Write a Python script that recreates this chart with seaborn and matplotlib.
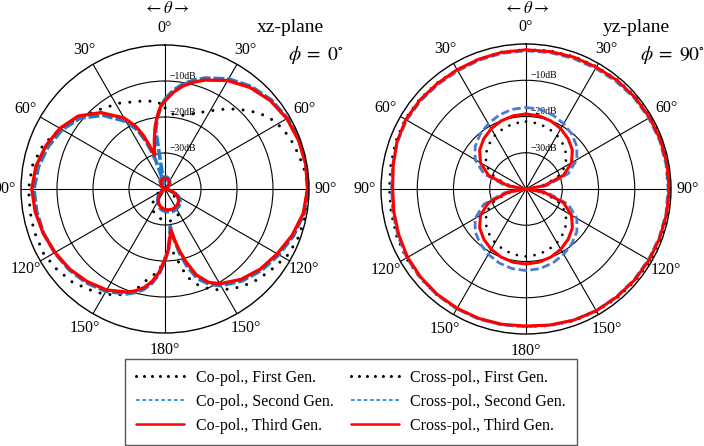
import numpy as np
import matplotlib
matplotlib.use('Agg')
import matplotlib.pyplot as plt
from matplotlib.lines import Line2D
import seaborn as sns

sns.set_style('white', rc={'text.color': 'black', 'xtick.color': 'black',
                           'ytick.color': 'black', 'axes.labelcolor': 'black'})
plt.rcParams['font.family'] = ['Liberation Serif', 'DejaVu Serif']
plt.rcParams['mathtext.fontset'] = 'stix'

# ---- xz-plane (phi = 0) : angle in deg (clockwise from top), level in dB ----
xz_co3_ang = [0, 5, 10, 15, 20, 30, 40, 50, 60, 70, 80, 90, 100, 110, 120, 130, 140,
              150, 155, 160, 164, 167, 170, 172, 174, 177, 180, 184, 188, 192, 196, 200,
              210, 220, 230, 240, 250, 260, 270, 280, 290, 300, 310, 320, 330, 335, 338,
              340, 342, 343, 345, 348, 351, 354, 357, 360]
xz_co3_db = [-15.5, -13.0, -10.9, -9.3, -7.8, -5.2, -3.2, -1.8, -0.9, -0.5, -0.3, -0.4,
             -1.0, -2.4, -4.0, -5.4, -7.2, -9.6, -11.4, -14.6, -19.0, -22.6, -26.2, -28.6,
             -26.5, -23.0, -20.5, -16.8, -14.0, -12.0, -10.6, -9.5, -7.6, -6.4, -5.4, -4.7,
             -4.0, -3.4, -3.0, -3.6, -4.8, -6.3, -8.5, -12.3, -17.2, -20.8, -24.0, -26.8,
             -29.6, -30.2, -28.6, -25.8, -22.5, -19.6, -17.0, -15.5]

xz_co2_ang = [0, 5, 10, 15, 20, 30, 40, 50, 60, 70, 80, 90, 100, 110, 120, 130, 140,
              150, 155, 160, 164, 167, 170, 172, 174, 177, 180, 184, 188, 192, 196, 200,
              210, 220, 230, 240, 250, 260, 270, 280, 290, 300, 310, 320, 330, 335, 338,
              340, 342, 345, 348, 351, 354, 357, 360]
xz_co2_db = [-15.0, -12.4, -10.3, -8.7, -7.2, -4.7, -2.8, -1.5, -0.7, -0.3, -0.2, -0.3,
             -0.8, -2.0, -3.5, -4.9, -6.7, -9.0, -10.8, -13.5, -17.5, -21.5, -26.0, -29.5,
             -27.0, -23.0, -20.0, -16.3, -13.5, -11.5, -10.1, -9.0, -7.2, -6.0, -5.2, -4.6,
             -4.1, -3.8, -3.6, -4.3, -5.5, -7.0, -9.3, -13.3, -18.3, -22.0, -25.5, -28.5,
             -31.5, -36.5, -38.5, -23.5, -20.0, -17.3, -15.0]

xz_co1_ang = [0, 5, 10, 15, 20, 28, 35, 40, 45, 51, 57, 63, 70, 76, 83, 90, 100, 110,
              118, 128, 137, 146, 155, 161, 166, 171, 175, 178, 182, 186, 190, 196, 202,
              210, 217, 225, 234, 242, 252, 260, 270, 280, 290, 300, 310, 315, 320, 332,
              346, 355, 360]
xz_co1_db = [-17.5, -19.0, -19.2, -18.8, -17.8, -15.6, -13.0, -11.0, -9.0, -6.4, -4.6,
             -3.2, -2.3, -1.6, -0.8, -0.3, -0.2, -0.6, -1.2, -3.0, -4.4, -6.5, -9.1, -11.8,
             -14.9, -20.8, -24.0, -22.5, -19.0, -16.5, -15.0, -11.0, -8.3, -6.2, -5.0,
             -3.5, -2.5, -1.8, -1.8, -2.0, -2.1, -2.6, -4.0, -6.5, -9.0, -10.4, -11.3,
             -13.0, -14.8, -15.6, -17.5]

xz_x_ang = [0, 10, 20, 30, 40, 50, 60, 70, 80, 90, 100, 110, 120, 130, 140, 150, 160,
            170, 180, 190, 200, 210, 220, 230, 240, 250, 260, 270, 280, 290, 300, 310,
            320, 330, 340, 350, 360]
xz_x3_db = [-37.0, -37.1, -37.3, -37.7, -38.2, -38.8, -39.4, -39.8, -40.0, -40.0, -39.3,
            -37.5, -36.0, -35.0, -34.5, -34.2, -34.0, -34.1, -34.3, -34.7, -35.3, -36.2,
            -37.3, -38.5, -39.4, -39.9, -40.0, -40.0, -40.0, -39.8, -39.4, -38.8, -38.2,
            -37.7, -37.3, -37.1, -37.0]
xz_x2_db = [-36.6, -36.7, -37.0, -37.4, -37.9, -38.6, -39.2, -39.7, -40.0, -40.0, -39.1,
            -37.2, -35.6, -34.5, -33.9, -33.6, -33.4, -33.5, -33.8, -34.2, -34.9, -35.9,
            -37.0, -38.2, -39.2, -39.8, -40.0, -40.0, -40.0, -39.7, -39.2, -38.5, -37.9,
            -37.3, -36.9, -36.7, -36.6]
xz_x1_db = [-38.0, -38.2, -38.7, -39.3, -39.8, -40.0, -40.0, -40.0, -40.0, -40.0, -40.0,
            -39.0, -37.8, -36.2, -33.8, -32.2, -31.3, -31.0, -31.3, -31.7, -32.3, -33.2,
            -34.6, -36.2, -37.8, -39.2, -40.0, -40.0, -40.0, -40.0, -40.0, -40.0, -39.7,
            -39.0, -38.4, -38.1, -38.0]

# ---- yz-plane (phi = 90) ----
yz_ang = [0, 10, 20, 30, 40, 50, 60, 70, 80, 90, 100, 110, 120, 130, 140, 150, 160, 170,
          180, 190, 200, 210, 220, 230, 240, 250, 260, 270, 280, 290, 300, 310, 320, 330,
          340, 350, 360]
yz_co3_db = [-1.6, -1.5, -1.3, -1.2, -0.9, -0.7, -0.6, -0.5, -0.5, -0.5, -0.6, -0.7, -0.8,
             -0.9, -1.1, -1.2, -1.5, -1.9, -2.2, -2.1, -2.0, -2.0, -2.0, -2.1, -2.3, -2.7,
             -3.0, -3.2, -2.8, -2.1, -1.7, -1.8, -2.0, -2.0, -1.9, -1.7, -1.6]
yz_co2_db = [-1.9, -1.8, -1.7, -1.6, -1.3, -1.0, -0.9, -0.8, -0.8, -0.8, -0.8, -0.9, -1.0,
             -1.1, -1.2, -1.3, -1.5, -1.8, -2.0, -1.9, -1.8, -1.8, -1.8, -1.9, -2.0, -2.4,
             -2.7, -2.9, -2.6, -2.2, -2.0, -2.1, -2.3, -2.4, -2.2, -2.0, -1.9]
yz_co1_db = [-1.5, -1.3, -1.1, -1.0, -0.7, -0.5, -0.4, -0.2, -0.1, -0.1, -0.2, -0.3, -0.4,
             -0.6, -0.8, -1.0, -1.3, -1.7, -2.0, -1.9, -1.9, -1.9, -1.8, -1.8, -1.8, -2.0,
             -2.2, -2.3, -2.1, -1.7, -1.5, -1.6, -1.8, -2.0, -1.8, -1.6, -1.5]
yz_x3_db = [-19.3, -19.5, -20.0, -20.8, -21.9, -23.3, -25.5, -29.0, -35.0, -40.0, -35.0,
            -29.0, -25.5, -23.3, -21.9, -20.8, -20.0, -19.5, -19.3, -19.5, -20.0, -20.8,
            -21.9, -23.3, -25.5, -29.0, -35.0, -40.0, -35.0, -29.0, -25.5, -23.3, -21.9,
            -20.8, -20.0, -19.5, -19.3]
yz_x2_db = [-17.5, -17.7, -18.3, -19.2, -20.3, -21.7, -23.8, -27.6, -34.0, -40.0, -34.0,
            -27.6, -23.8, -21.7, -20.3, -19.2, -18.3, -17.7, -17.5, -17.7, -18.3, -19.2,
            -20.3, -21.7, -23.8, -27.6, -34.0, -40.0, -34.0, -27.6, -23.8, -21.7, -20.3,
            -19.2, -18.3, -17.7, -17.5]
yz_x1_db = [-21.4, -21.6, -22.1, -22.9, -24.0, -25.4, -27.5, -30.8, -36.0, -40.0, -36.0,
            -30.8, -27.5, -25.4, -24.0, -22.9, -22.1, -21.6, -21.4, -21.6, -22.1, -22.9,
            -24.0, -25.4, -27.5, -30.8, -36.0, -40.0, -36.0, -30.8, -27.5, -25.4, -24.0,
            -22.9, -22.1, -21.6, -21.4]

theta_labels = ['0°', '30°', '60°', '90°', '120°', '150°', '180°',
                '150°', '120°', '90°', '60°', '30°']
ring_levels = [-10, -20, -30]
ring_labels = ['−10dB', '−20dB', '−30dB']

BLACK = 'black'
RED = '#FF0000'
BLUE_L = '#1E7CCB'
BLUE_R = '#4A7BD2'
BLUE_LEG = '#1A80D8'

fig = plt.figure(figsize=(7.04, 4.46), dpi=100)
ax1 = fig.add_axes([21 / 704, 113 / 446, 288 / 704, 288 / 446], projection='polar')
ax2 = fig.add_axes([381 / 704, 112 / 446, 290 / 704, 290 / 446], projection='polar')


def setup(ax):
    ax.set_theta_zero_location('N')
    ax.set_theta_direction(-1)
    ax.set_ylim(-40, 0)
    ax.set_yticks(ring_levels)
    ax.set_yticklabels([])
    ax.set_xticks(np.deg2rad(np.arange(0, 360, 30)))
    ax.set_xticklabels(theta_labels, fontsize=11.5)
    ax.tick_params(axis='x', pad=1.5)
    ax.grid(True, color='black', lw=0.8)
    ax.spines['polar'].set_color('black')
    ax.spines['polar'].set_linewidth(1.0)
    ax.set_xlabel('')
    ax.set_ylabel('')
    for lev, lab in zip(ring_levels, ring_labels):
        ax.annotate(lab, xy=(0, lev), xytext=(3, 0), textcoords='offset points',
                    ha='left', va='bottom', fontsize=7, zorder=1)


def curve(ax, ang, db, **kw):
    sns.lineplot(x=np.deg2rad(ang), y=db, ax=ax, sort=False, estimator=None,
                 legend=False, **kw)


dots_l = dict(color=BLACK, lw=2.2, linestyle=(0, (0.01, 3.3)), dash_capstyle='round')
dash_l = dict(color=BLUE_L, lw=2.6, linestyle=(0, (3.0, 0.8)))
red_l = dict(color=RED, lw=2.4)

curve(ax1, xz_co1_ang, xz_co1_db, **dots_l)
curve(ax1, xz_x_ang, xz_x1_db, **dots_l)
curve(ax1, xz_co2_ang, xz_co2_db, **dash_l)
curve(ax1, xz_x_ang, xz_x2_db, **dash_l)
curve(ax1, xz_co3_ang, xz_co3_db, **red_l)
curve(ax1, xz_x_ang, xz_x3_db, **red_l)

dots_r = dict(color=BLACK, lw=2.0, linestyle=(0, (0.01, 3.2)), dash_capstyle='round')
dash_r = dict(color=BLUE_R, lw=2.0, linestyle=(0, (3.0, 1.3)))
red_r = dict(color=RED, lw=2.2)

curve(ax2, yz_ang, yz_co1_db, **dots_r)
curve(ax2, yz_ang, yz_x1_db, **dots_r)
curve(ax2, yz_ang, yz_co2_db, **dash_r)
curve(ax2, yz_ang, yz_x2_db, **dash_r)
curve(ax2, yz_ang, yz_co3_db, **red_r)
curve(ax2, yz_ang, yz_x3_db, **red_r)

setup(ax1)
setup(ax2)

fig.text(166 / 704, 1 - 9 / 446, r'$\leftarrow\theta\rightarrow$', ha='center', va='center', fontsize=12)
fig.text(526 / 704, 1 - 9 / 446, r'$\leftarrow\theta\rightarrow$', ha='center', va='center', fontsize=12)
fig.text(290 / 704, 1 - 27.5 / 446, 'xz-plane', ha='center', va='center', fontsize=14)
fig.text(636 / 704, 1 - 27.5 / 446, 'yz-plane', ha='center', va='center', fontsize=14)
fig.text(316 / 704, 1 - 55 / 446, r'$\phi\;=\;0^{\circ}$', ha='center', va='center', fontsize=14)
fig.text(673 / 704, 1 - 55 / 446, r'$\phi\;=\;90^{\circ}$', ha='center', va='center', fontsize=14)

handles = [
    Line2D([], [], color=BLACK, lw=2.2, linestyle=(0, (0.01, 2.6)), dash_capstyle='round'),
    Line2D([], [], color=BLUE_LEG, lw=1.2, linestyle=(0, (2.2, 1.6))),
    Line2D([], [], color=RED, lw=1.8),
    Line2D([], [], color=BLACK, lw=2.2, linestyle=(0, (0.01, 2.6)), dash_capstyle='round'),
    Line2D([], [], color=BLUE_LEG, lw=1.2, linestyle=(0, (2.2, 1.6))),
    Line2D([], [], color=RED, lw=1.8),
]
labels = ['Co-pol., First Gen.', 'Co-pol., Second Gen.', 'Co-pol., Third Gen.',
          'Cross-pol., First Gen.', 'Cross-pol., Second Gen.', 'Cross-pol., Third Gen.']
leg = fig.legend(handles, labels, ncol=2, loc='lower center', bbox_to_anchor=(351 / 704, 1 / 446),
                 frameon=True, fancybox=False, edgecolor='#555555', framealpha=1,
                 fontsize=11.5, handlelength=3.0, handletextpad=0.7, columnspacing=1.1,
                 labelspacing=0.5, borderpad=0.7, borderaxespad=0)
leg.get_frame().set_linewidth(1.0)

fig.savefig('out.png', dpi=100)
